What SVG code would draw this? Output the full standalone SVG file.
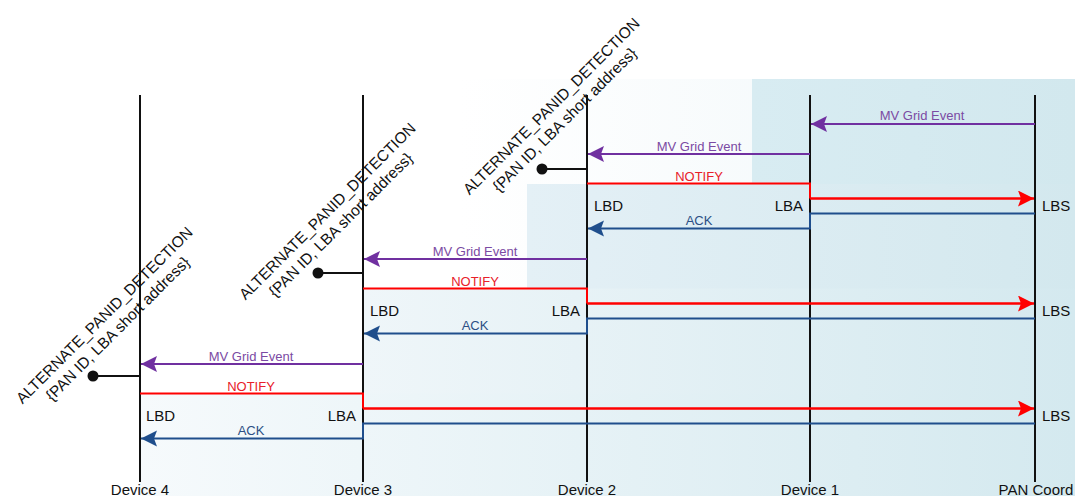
<svg xmlns="http://www.w3.org/2000/svg" width="1075" height="496" viewBox="0 0 1075 496">
<defs>
<linearGradient id="gA" x1="0" y1="0" x2="1" y2="0"><stop offset="0" stop-color="#ffffff"/><stop offset="1" stop-color="#eef6f9"/></linearGradient>
<linearGradient id="gB" x1="0" y1="0" x2="1" y2="0"><stop offset="0" stop-color="#d8ecf2"/><stop offset="1" stop-color="#d2e8ee"/></linearGradient>
<linearGradient id="gC" x1="0" y1="0" x2="1" y2="0"><stop offset="0" stop-color="#e4f0f6"/><stop offset="1" stop-color="#d3e8ee"/></linearGradient>
<linearGradient id="gD" x1="0" y1="0" x2="1" y2="0"><stop offset="0" stop-color="#eff6f9"/><stop offset="1" stop-color="#d4e9ef"/></linearGradient>
<linearGradient id="gE" x1="0" y1="0" x2="1" y2="0"><stop offset="0" stop-color="#f6fafc"/><stop offset="1" stop-color="#d4e9ef"/></linearGradient>
<marker id="aP" markerUnits="userSpaceOnUse" markerWidth="18" markerHeight="18" refX="16" refY="8" orient="auto"><path d="M0,0 L16,8 L0,16 L3,8 z" fill="#7030a0"/></marker>
<marker id="aR" markerUnits="userSpaceOnUse" markerWidth="18" markerHeight="18" refX="16" refY="8" orient="auto"><path d="M0,0 L16,8 L0,16 L3,8 z" fill="#ff0000"/></marker>
<marker id="aB" markerUnits="userSpaceOnUse" markerWidth="18" markerHeight="18" refX="16" refY="8" orient="auto"><path d="M0,0 L16,8 L0,16 L3,8 z" fill="#1f4e8c"/></marker>
</defs>
<style>
text{font-family:"Liberation Sans",Arial,sans-serif}
.life{stroke:#111;stroke-width:2;fill:none}
.dev{font-size:15px;fill:#111;text-anchor:middle}
.lb{font-size:15px;fill:#111}
.ann{font-size:15.5px;fill:#111;text-anchor:middle}
.mv{stroke:#7030a0;stroke-width:2;fill:none}
.nt{stroke:#ff0000;stroke-width:2;fill:none}
.ntA{stroke:#ff0000;stroke-width:2.5;fill:none}
.ak{stroke:#1f4e8c;stroke-width:2;fill:none}
.tmv{font-size:13px;fill:#7b4aa3;text-anchor:middle}
.tnt{font-size:13px;fill:#e8202a;text-anchor:middle}
.tak{font-size:13px;fill:#2b4f84;text-anchor:middle}
.blk{stroke:#111;stroke-width:2}
</style>
<rect width="1075" height="496" fill="#ffffff"/>
<g id="background">
<rect x="460" y="79" width="615" height="417" fill="url(#gA)"/>
<rect x="752" y="79" width="323" height="417" fill="url(#gB)"/>
<rect x="527" y="184" width="548" height="312" fill="url(#gC)"/>
<rect x="363" y="288.5" width="712" height="208" fill="url(#gD)"/>
<rect x="140" y="393.5" width="935" height="103" fill="url(#gE)"/>
</g>
<g id="device4"><line class="life" x1="140" y1="95" x2="140" y2="482"/><text class="dev" x="140" y="495">Device 4</text></g>
<g id="device3"><line class="life" x1="363" y1="95" x2="363" y2="482"/><text class="dev" x="363" y="495">Device 3</text></g>
<g id="device2"><line class="life" x1="587" y1="95" x2="587" y2="482"/><text class="dev" x="587" y="495">Device 2</text></g>
<g id="device1"><line class="life" x1="810" y1="95" x2="810" y2="482"/><text class="dev" x="810" y="495">Device 1</text></g>
<g id="pancoord"><line class="life" x1="1035" y1="95" x2="1035" y2="482"/><text class="dev" x="1036" y="495">PAN Coord</text></g>
<g id="annot1">
<line class="blk" x1="542" y1="169" x2="587" y2="169"/><circle cx="542" cy="169" r="5.5" fill="#111"/>
<text class="ann" transform="translate(555,110) rotate(-45)"><tspan x="0" y="0">ALTERNATE_PANID_DETECTION</tspan><tspan x="0" y="19">{PAN ID, LBA short address}</tspan></text>
</g>
<g id="annot2">
<line class="blk" x1="318" y1="273" x2="363" y2="273"/><circle cx="318" cy="273" r="5.5" fill="#111"/>
<text class="ann" transform="translate(331,215) rotate(-45)"><tspan x="0" y="0">ALTERNATE_PANID_DETECTION</tspan><tspan x="0" y="19">{PAN ID, LBA short address}</tspan></text>
</g>
<g id="annot3">
<line class="blk" x1="93" y1="376" x2="140" y2="376"/><circle cx="93" cy="376" r="5.5" fill="#111"/>
<text class="ann" transform="translate(108,319) rotate(-45)"><tspan x="0" y="0">ALTERNATE_PANID_DETECTION</tspan><tspan x="0" y="19">{PAN ID, LBA short address}</tspan></text>
</g>
<g id="connectors">
<line class="mv" x1="1035" y1="124" x2="811" y2="124" marker-end="url(#aP)"/>
<text class="tmv" x="922" y="120">MV Grid Event</text>
<line class="mv" x1="810" y1="154" x2="588" y2="154" marker-end="url(#aP)"/>
<text class="tmv" x="699" y="150.5">MV Grid Event</text>
<polyline class="nt" points="587,183.5 810,183.5 810,198.5"/>
<line class="ntA" x1="810" y1="198.5" x2="1034" y2="198.5" marker-end="url(#aR)"/>
<text class="tnt" x="699" y="180.5">NOTIFY</text>
<polyline class="ak" points="1035,213.5 810,213.5 810,228.5 588,228.5" marker-end="url(#aB)"/>
<text class="tak" x="699" y="224.5">ACK</text>
<text class="lb" x="594" y="211">LBD</text>
<text class="lb" x="803" y="211" text-anchor="end">LBA</text>
<text class="lb" x="1042" y="211">LBS</text>
<line class="mv" x1="587" y1="259" x2="364" y2="259" marker-end="url(#aP)"/>
<text class="tmv" x="475" y="255.5">MV Grid Event</text>
<polyline class="nt" points="363,288.5 587,288.5 587,303.5"/>
<line class="ntA" x1="587" y1="303.5" x2="1034" y2="303.5" marker-end="url(#aR)"/>
<text class="tnt" x="475" y="285.5">NOTIFY</text>
<polyline class="ak" points="1035,318.5 587,318.5 587,333.5 364,333.5" marker-end="url(#aB)"/>
<text class="tak" x="475" y="329.5">ACK</text>
<text class="lb" x="370" y="316">LBD</text>
<text class="lb" x="580" y="316" text-anchor="end">LBA</text>
<text class="lb" x="1042" y="316">LBS</text>
<line class="mv" x1="363" y1="364" x2="141" y2="364" marker-end="url(#aP)"/>
<text class="tmv" x="251" y="360.5">MV Grid Event</text>
<polyline class="nt" points="140,393.5 363,393.5 363,408.5"/>
<line class="ntA" x1="363" y1="408.5" x2="1034" y2="408.5" marker-end="url(#aR)"/>
<text class="tnt" x="251" y="390.5">NOTIFY</text>
<polyline class="ak" points="1035,423.5 363,423.5 363,438.5 141,438.5" marker-end="url(#aB)"/>
<text class="tak" x="251" y="434.5">ACK</text>
<text class="lb" x="146" y="421">LBD</text>
<text class="lb" x="356" y="421" text-anchor="end">LBA</text>
<text class="lb" x="1042" y="421">LBS</text>
</g>
</svg>
